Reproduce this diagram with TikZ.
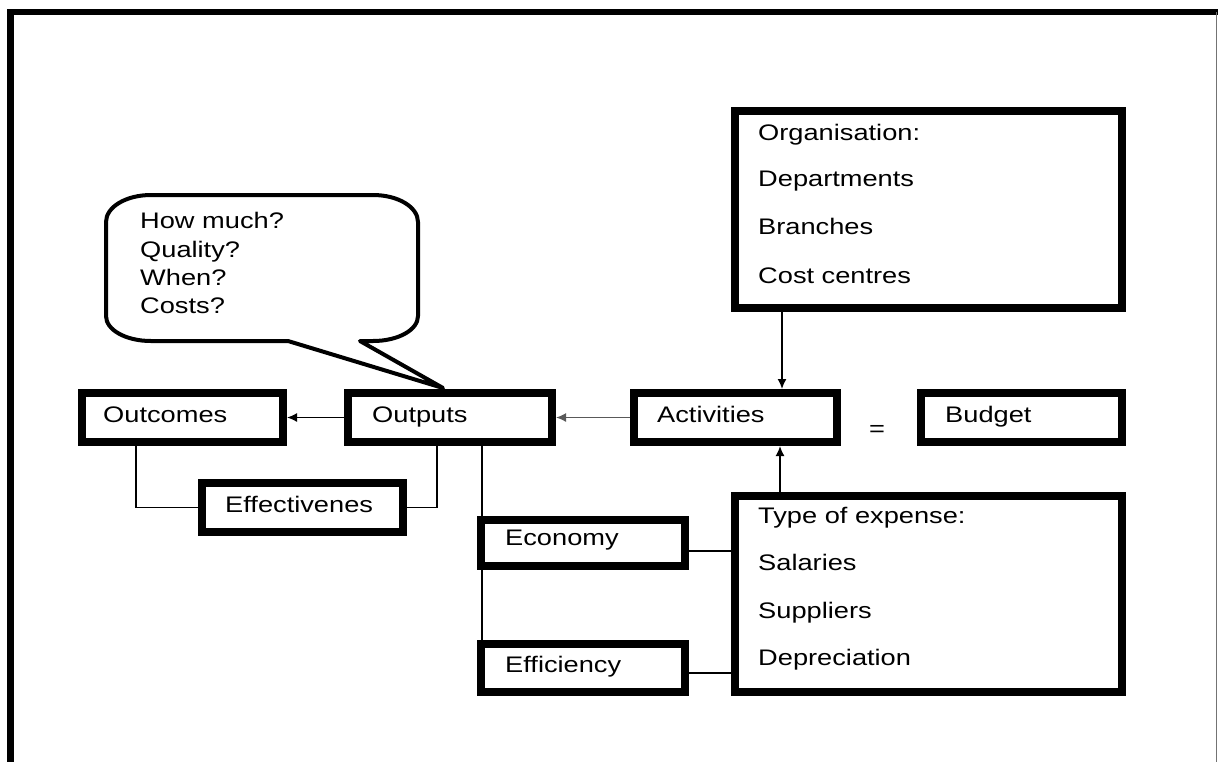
\documentclass[tikz,border=0pt]{standalone}
\usepackage{fontspec}
\setmainfont{Liberation Sans}[FakeStretch=1.21]
\usetikzlibrary{arrows.meta}
\pgfdeclarelayer{background}
\pgfsetlayers{background,main}
\begin{document}
\begin{tikzpicture}[x=1pt,y=-1pt,
  box/.style={draw, line width=8pt, fill=white, inner sep=0pt},
  lbl/.style={anchor=base west, inner sep=0pt, font=\fontsize{22.5}{27}\selectfont},
  conn/.style={line width=1.6pt},
  arr/.style={line width=1.6pt, -{Latex[length=10pt,width=9pt]}}]
\clip (0,0) rectangle (1218,761);
% outer frame
\draw[line width=6pt] (7,12) -- (1230,12);
\draw[line width=7pt] (10.5,9) -- (10.5,770);
\draw[black!55, line width=1pt] (1216,12) -- (1216,770);

% boxes
\node[box, minimum width=201pt, minimum height=49pt] (outcomes) at (182.5,417.5) {};
\node[box, minimum width=204pt, minimum height=49pt] (outputs) at (450,417.5) {};
\node[box, minimum width=203pt, minimum height=49pt] (activities) at (735.5,417.5) {};
\node[box, minimum width=201pt, minimum height=49pt] (budget) at (1021.5,417.5) {};
\node[box, minimum width=201pt, minimum height=49pt] (effect) at (302.5,507.5) {};
\node[box, minimum width=204pt, minimum height=46pt] (economy) at (583,543) {};
\node[box, minimum width=204pt, minimum height=48pt] (efficiency) at (583,668) {};
\node[box, minimum width=387pt, minimum height=196pt] (type) at (928.5,594) {};
\node[box, minimum width=387pt, minimum height=197pt] (org) at (928.5,209.5) {};

% labels
\node[lbl] (tOutcomes) at (103,422) {Outcomes};
\node[lbl] (tOutputs) at (372,422) {Outputs};
\node[lbl] (tActivities) at (657,422) {Activities};
\node[lbl] (tBudget) at (945,422) {Budget};
\node[lbl] (tEffect) at (225,512) {Effectivenes};
\node[lbl] (tEconomy) at (505,545) {Economy};
\node[lbl] (tEfficiency) at (505,672) {Efficiency};
\node[lbl] (tOrg1) at (758,140) {Organisation:};
\node[lbl] (tOrg2) at (758,186) {Departments};
\node[lbl] (tOrg3) at (758,234) {Branches};
\node[lbl] (tOrg4) at (758,283) {Cost centres};
\node[lbl] (tType1) at (758,523) {Type of expense:};
\node[lbl] (tType2) at (758,570) {Salaries};
\node[lbl] (tType3) at (758,618) {Suppliers};
\node[lbl] (tType4) at (758,665) {Depreciation};
\node[inner sep=0pt, font=\fontsize{22.5}{27}\selectfont] (eq) at (877,431) {=};

% speech bubble
\coordinate (tip) at (443,388);
\draw[line width=4pt, fill=white, line join=round]
  (151,195) -- (373,195) .. controls (398,195) and (418,207) .. (418,222)
  -- (418,316) .. controls (418,330) and (398,341) .. (373,341)
  -- (360,341) -- (tip) -- (288,341)
  -- (151,341) .. controls (126,341) and (106,330) .. (106,316)
  -- (106,222) .. controls (106,207) and (126,195) .. (151,195) -- cycle;
\node[lbl] (q1) at (140,228) {How much?};
\node[lbl] (q2) at (140,257) {Quality?};
\node[lbl] (q3) at (140,285) {When?};
\node[lbl] (q4) at (140,313) {Costs?};

% connectors
\draw[arr] (outputs.west) -- (outcomes.east);
\draw[arr, black!65] (activities.west) -- (outputs.east);
\draw[arr] ([xshift=51pt]org.south west) -- ([xshift=51pt]org.south west |- activities.north);
\draw[arr] ([xshift=49pt]type.north west) -- ([xshift=49pt]type.north west |- activities.south);
\draw[conn] ([xshift=58pt]outcomes.south west) |- (effect.west);
\draw[conn] (effect.east) -| ([xshift=93pt]outputs.south west);
\begin{pgfonlayer}{background}
\draw[conn] ([xshift=138pt]outputs.south west) -- ([xshift=138pt]outputs.south west |- efficiency.north);
\end{pgfonlayer}
\draw[conn] (economy.east |- 0,551) -- (type.west |- 0,551);
\draw[conn] (efficiency.east |- 0,673) -- (type.west |- 0,673);
\end{tikzpicture}
\end{document}
